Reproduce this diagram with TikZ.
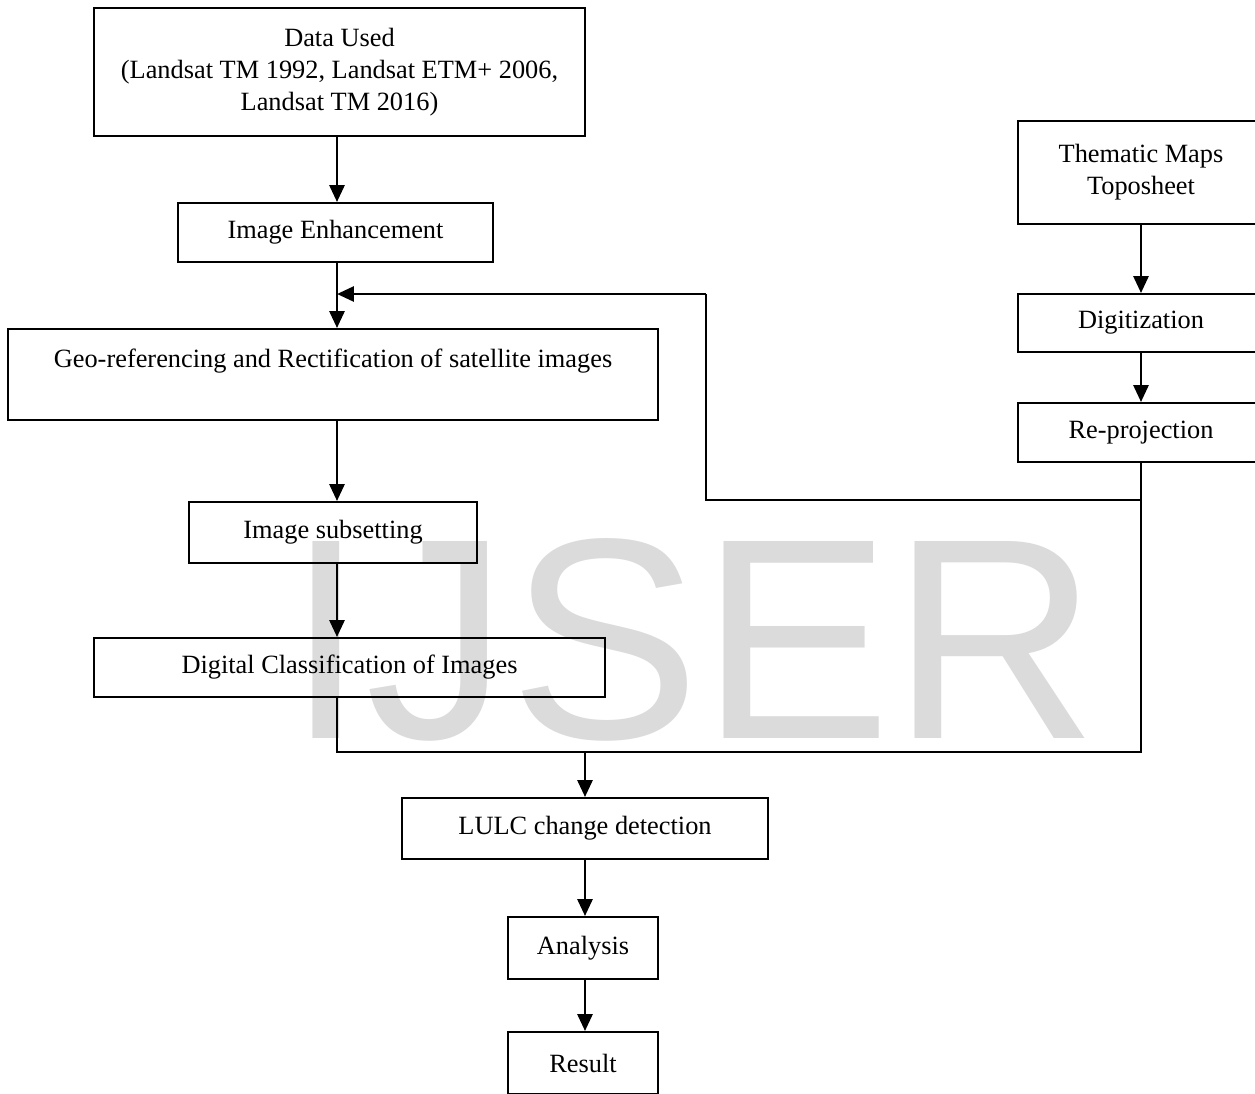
\documentclass[tikz,border=0pt]{standalone}
\usepackage{fontspec}
\setmainfont{Liberation Serif}
\setsansfont{Liberation Sans}
\usetikzlibrary{positioning, arrows.meta}

\begin{document}
\begin{tikzpicture}[x=0.02cm, y=-0.02cm,
    font=\fontsize{15}{18.2}\selectfont,
    box/.style={rectangle, draw, line width=1.1pt, inner sep=0pt, align=center},
    arr/.style={line width=1.6pt, -{Triangle[length=0.34cm, width=0.3cm]}},
    line/.style={line width=1.1pt}]
    \clip (0,0) rectangle (1255,1093);
    % watermark
    \node[anchor=base west, inner sep=0pt, text=black!14, font=\sffamily\fontsize{163}{163}\selectfont] (mark) at (286,738) {IJSER};
    % main column
    \node[box, minimum width=9.82cm, minimum height=2.56cm] (data) at (339.5,72) {Data Used\\(Landsat TM 1992, Landsat ETM+ 2006,\\Landsat TM 2016)};
    \node[box, minimum width=6.3cm, minimum height=1.18cm] (enh) at (335.5,232.5) {Image Enhancement};
    \node[box, minimum width=13cm, minimum height=1.82cm] (geo) at (333,374.5) {Geo-referencing and Rectification of satellite images\\ ~};
    \node[box, minimum width=5.76cm, minimum height=1.22cm] (sub) at (333,532.5) {Image subsetting};
    \node[box, minimum width=10.22cm, minimum height=1.18cm] (cls) at (349.5,667.5) {Digital Classification of Images};
    \node[box, minimum width=7.32cm, minimum height=1.22cm] (lulc) at (585,828.5) {LULC change detection};
    \node[box, minimum width=3cm, minimum height=1.24cm] (ana) at (583,948) {Analysis};
    \node[box, minimum width=3cm, minimum height=1.24cm] (res) at (583,1063) {Result};
    % right column
    \node[box, minimum width=4.92cm, minimum height=2.06cm] (them) at (1141,172.5) {Thematic Maps\\Toposheet};
    \node[box, minimum width=4.92cm, minimum height=1.16cm] (dig) at (1141,323) {Digitization};
    \node[box, minimum width=4.92cm, minimum height=1.18cm] (rep) at (1141,432.5) {Re-projection};
    \coordinate (c) at (337,0);
    \coordinate (jn) at (1141,500);
    \coordinate (fb) at (706,294);
    \coordinate (mrg) at (585,752);
    \draw[arr] (data.south -| c) -- (enh.north -| c);
    \draw[arr] (enh.south -| c) -- (geo.north -| c);
    \draw[arr] (geo.south -| c) -- (sub.north -| c);
    \draw[arr] (sub.south -| c) -- (cls.north -| c);
    \draw[arr] (them) -- (dig);
    \draw[arr] (dig) -- (rep);
    \draw[line] (rep.south) -- (jn) -| (fb);
    \draw[arr] (fb) -- (fb -| c);
    \draw[line] (jn) |- (mrg) -| (cls.south -| c);
    \draw[arr] (mrg) -- (lulc.north -| mrg);
    \draw[arr] (lulc.south -| mrg) -- (ana.north -| mrg);
    \draw[arr] (ana.south -| mrg) -- (res.north -| mrg);
\end{tikzpicture}
\end{document}
